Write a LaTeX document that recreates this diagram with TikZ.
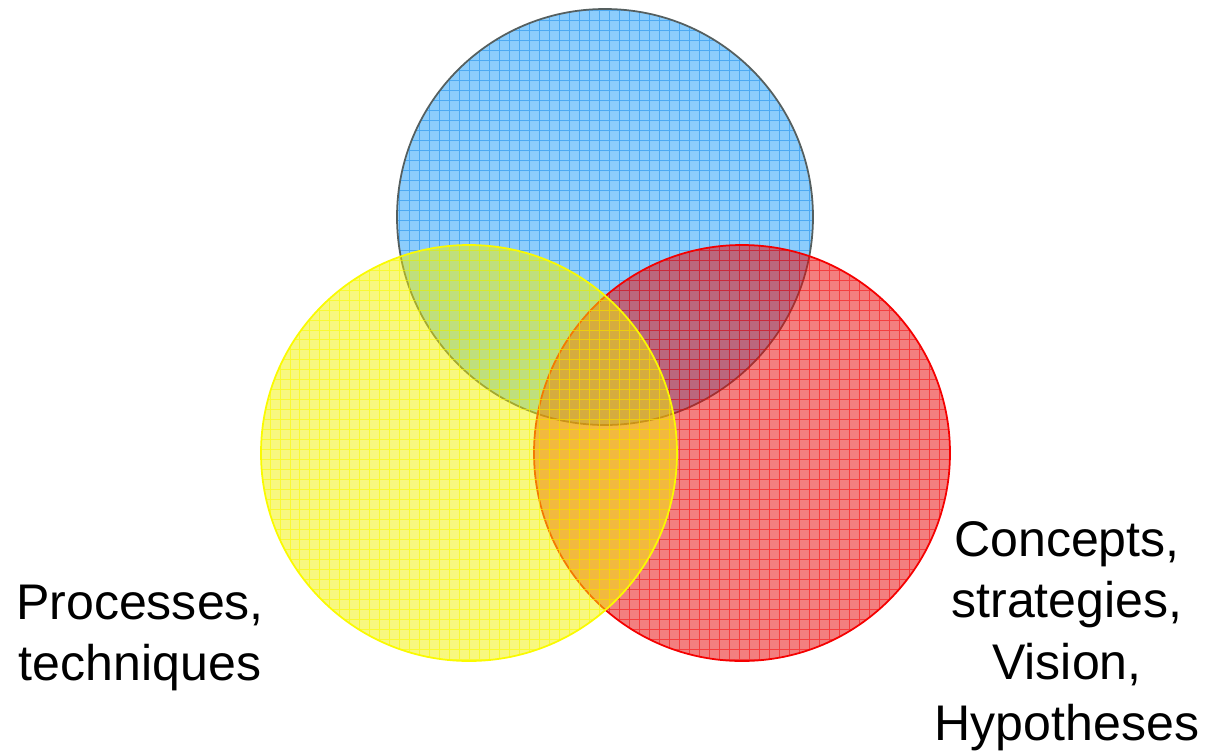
\documentclass[tikz,border=0pt]{standalone}
\usepackage{fontspec}
\setmainfont{Liberation Sans}
\definecolor{skyfill}{RGB}{140,205,252}
\definecolor{skyline}{RGB}{60,160,240}
\definecolor{skyrim}{RGB}{85,95,95}
\definecolor{redfill}{RGB}{232,10,10}
\definecolor{redline}{RGB}{245,0,0}
\definecolor{yelfill}{RGB}{242,242,0}
\definecolor{yelline}{RGB}{250,250,0}
\tikzset{
  label text/.style={align=center,font=\fontsize{28.5}{35}\selectfont},
  fine grid/.style={line width=0.5pt,step=0.2cm}
}
\begin{document}
\begin{tikzpicture}[x=0.02cm,y=-0.02cm]
\useasboundingbox (0,0) rectangle (1205,752);

\fill[skyfill] (605,217) circle (208);
\begin{scope}
\clip (605,217) circle (208);
\draw[skyline,opacity=0.8,fine grid] (390,0) grid (820,430);
\end{scope}
\draw[skyrim,line width=1pt] (605,217) circle (208);

\fill[redfill,opacity=0.52] (742,453) circle (208);
\begin{scope}
\clip (742,453) circle (208);
\draw[redline,opacity=0.5,fine grid] (530,240) grid (960,670);
\end{scope}
\draw[redline,line width=1pt] (742,453) circle (208);

\fill[yelfill,opacity=0.5] (469,453) circle (208);
\begin{scope}
\clip (469,453) circle (208);
\draw[yelline,opacity=0.6,fine grid] (250,240) grid (690,670);
\end{scope}
\draw[yelline,line width=1pt] (469,453) circle (208);

\node[label text] (proc) at (140,638) {Processes,\\techniques};
\node[label text] (conc) at (1067,636) {Concepts,\\strategies,\\Vision,\\Hypotheses};
\end{tikzpicture}
\end{document}
